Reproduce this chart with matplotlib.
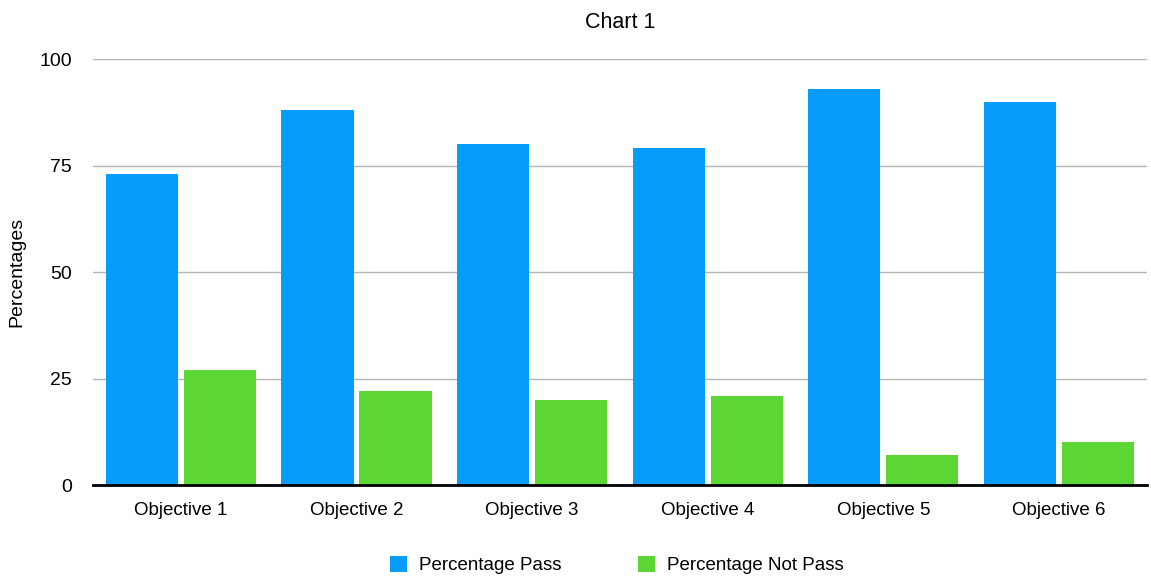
import matplotlib.pyplot as plt
import numpy as np

plt.rcParams['font.family'] = ['Liberation Sans', 'DejaVu Sans']

# Resultados por objetivo
objectives = ["Objective 1", "Objective 2", "Objective 3", "Objective 4", "Objective 5", "Objective 6"]
pct_pass = [73, 88, 80, 79, 93, 90]
pct_not_pass = [27, 22, 20, 21, 7, 10]
y_ticks = [0, 25, 50, 75, 100]

x = np.arange(len(objectives))
width = 0.41
offset = 0.222

fig = plt.figure(figsize=(11.51, 5.77), dpi=100)
ax = fig.add_axes([0.0808, 0.1594, 0.9157, 0.7383])

ax.bar(x - offset, pct_pass, width, color='#069CF9', label='Percentage Pass', zorder=2)
ax.bar(x + offset, pct_not_pass, width, color='#5CD634', label='Percentage Not Pass', zorder=2)

ax.set_xlim(-0.5, len(objectives) - 0.5)
ax.set_ylim(0, 100)
ax.set_yticks(y_ticks)
ax.set_xticks(x)
ax.set_xticklabels(objectives, fontsize=13.5)
ax.tick_params(axis='y', labelsize=14, length=0, pad=15)
ax.tick_params(axis='x', length=0, pad=12)
ax.yaxis.grid(True, color='#b5b5b5', linewidth=1, zorder=0)

for side in ['top', 'right', 'left']:
    ax.spines[side].set_visible(False)
ax.spines['bottom'].set_linewidth(2)
ax.spines['bottom'].set_zorder(3)

ax.set_ylabel("Percentages", fontsize=14, labelpad=10)
ax.set_title("Chart 1", fontsize=15.5, pad=22)

ax.legend(loc='center', bbox_to_anchor=(0.497, -0.188), ncol=2, frameon=False,
          fontsize=13.5, handlelength=0.9, handleheight=0.9, columnspacing=4.1, handletextpad=0.65)

fig.savefig("out.png", dpi=100)
plt.close(fig)
